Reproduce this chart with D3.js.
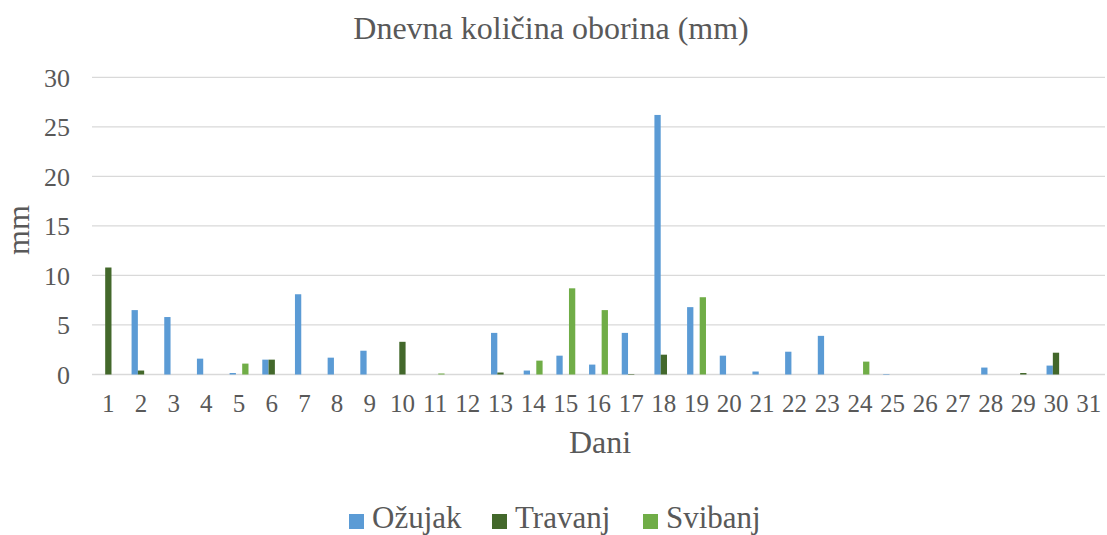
<!DOCTYPE html>
<html>
<head>
<meta charset="utf-8">
<script src="https://cdn.jsdelivr.net/npm/d3@7"></script>
<style>
  html, body { margin: 0; padding: 0; background: #fff; }
  svg { display: block; }
  text { font-family: "Liberation Serif", "Times New Roman", serif; fill: #595959; }
</style>
</head>
<body>
<div id="chart"></div>
<script>
const days = d3.range(1, 32).map(String);
const seriesNames = ["Ožujak", "Travanj", "Svibanj"];
const seriesColors = ["#5B9BD5", "#43682B", "#70AD47"];
const ozujak  = [0, 6.5, 5.8, 1.6, 0.15, 1.5, 8.1, 1.7, 2.4, 0, 0, 0, 4.2, 0.4, 1.9, 1.0, 4.2, 26.2, 6.8, 1.9, 0.3, 2.3, 3.9, 0, 0.05, 0, 0, 0.7, 0, 0.9, 0];
const travanj = [10.8, 0.4, 0, 0, 0, 1.5, 0, 0, 0, 3.3, 0, 0, 0.2, 0, 0, 0, 0.05, 2.0, 0, 0, 0, 0, 0, 0, 0, 0, 0, 0, 0.15, 2.2, 0];
const svibanj = [0, 0, 0, 0, 1.1, 0, 0, 0, 0, 0, 0.1, 0, 0, 1.4, 8.7, 6.5, 0, 0, 7.8, 0, 0, 0, 0, 1.3, 0, 0, 0, 0, 0, 0, 0];
const yTicks = [0, 5, 10, 15, 20, 25, 30];
const title = "Dnevna količina oborina (mm)";
const xTitle = "Dani";
const yTitle = "mm";

const W = 1107, H = 535;
const plot = { left: 92, right: 1105, top: 77.3, bottom: 374.5 };

const svg = d3.select("#chart").append("svg").attr("width", W).attr("height", H);

const x0 = d3.scaleBand().domain(days).range([plot.left, plot.right]).paddingInner(0).paddingOuter(0);
const step = x0.bandwidth();
const barW = step / (3 + 2.19);
const x1 = d3.scaleBand().domain(seriesNames).range([0, barW * 3]);
const y = d3.scaleLinear().domain([0, 30]).range([plot.bottom, plot.top]);

// gridlines
svg.append("g").selectAll("line").data(yTicks).join("line")
  .attr("x1", plot.left).attr("x2", plot.right)
  .attr("y1", d => y(d)).attr("y2", d => y(d))
  .attr("stroke", "#D9D9D9").attr("stroke-width", 1.3);

// y axis labels
const yAxis = d3.axisLeft(y).tickValues(yTicks).tickSize(0).tickPadding(0);
const gy = svg.append("g").attr("transform", `translate(70,0)`).call(yAxis);
gy.select(".domain").remove();
gy.selectAll("text").style("font-family", '"Liberation Serif", serif').style("font-size", "26px").attr("fill", "#595959").attr("dy", "0.34em");

// x axis labels
const xAxis = d3.axisBottom(x0).tickSize(0).tickPadding(0);
const gx = svg.append("g").attr("transform", `translate(0,412)`).call(xAxis);
gx.select(".domain").remove();
gx.selectAll("text").style("font-family", '"Liberation Serif", serif').style("font-size", "25px").attr("fill", "#595959").attr("y", 0).attr("dy", "0");

// bars
const data = days.map((d, i) => ({ day: d, vals: [ozujak[i], travanj[i], svibanj[i]] }));
const groups = svg.append("g").selectAll("g").data(data).join("g")
  .attr("transform", d => `translate(${x0(d.day) + (step - barW * 3) / 2},0)`);
groups.selectAll("rect").data(d => d.vals.map((v, k) => ({ v, k })).filter(o => o.v > 0)).join("rect")
  .attr("x", o => x1(seriesNames[o.k]))
  .attr("width", barW)
  .attr("y", o => y(o.v))
  .attr("height", o => y(0) - y(o.v))
  .attr("fill", o => seriesColors[o.k]);

// title
svg.append("text").attr("x", 551).attr("y", 39).attr("text-anchor", "middle")
  .style("font-size", "32px").text(title);

// axis titles
svg.append("text").attr("x", 600).attr("y", 453).attr("text-anchor", "middle")
  .style("font-size", "32px").text(xTitle);
svg.append("text").attr("transform", "translate(29,230) rotate(-90)").attr("text-anchor", "middle")
  .style("font-size", "32px").text(yTitle);

// legend
const legendX = [349, 492, 643];
const lg = svg.append("g").selectAll("g").data(seriesNames).join("g")
  .attr("transform", (d, i) => `translate(${legendX[i]},0)`);
lg.append("rect").attr("x", 0).attr("y", 514).attr("width", 15).attr("height", 15)
  .attr("fill", (d, i) => seriesColors[i]);
lg.append("text").attr("x", 23).attr("y", 528).style("font-size", "31px").text(d => d);
</script>
</body>
</html>
